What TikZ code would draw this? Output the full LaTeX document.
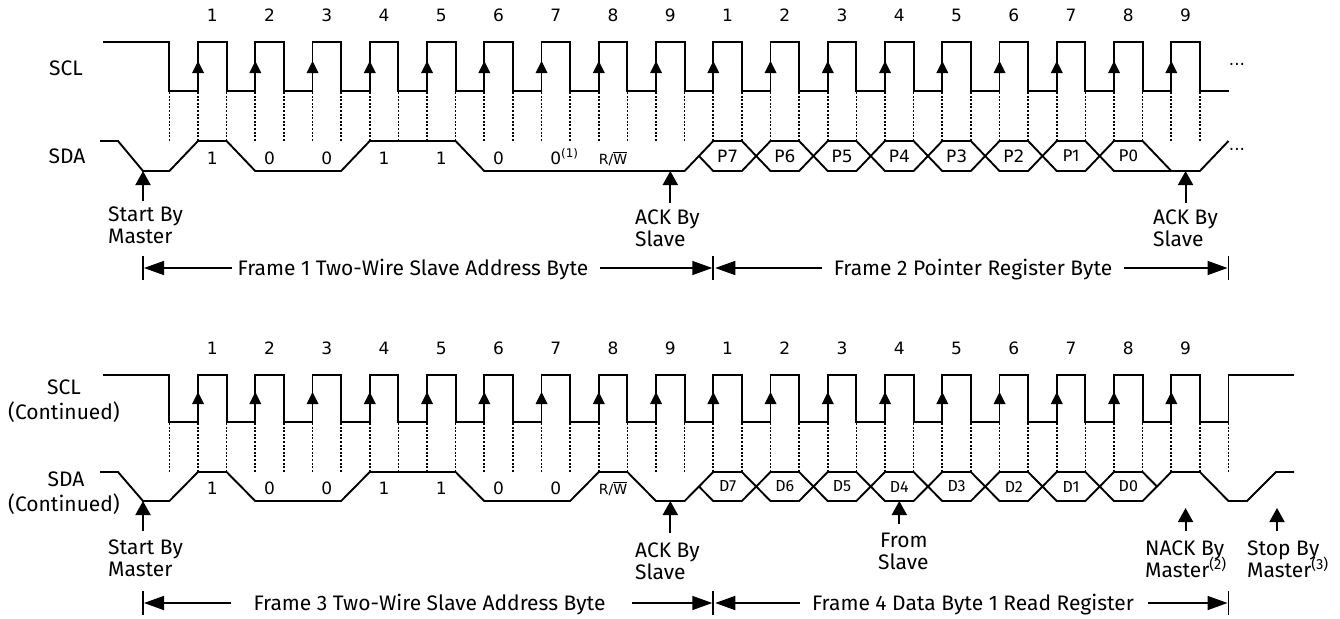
\documentclass[tikz,border=0pt]{standalone}
\usepackage{fontspec}
\setmainfont{Fira Sans}
\newfontfamily\dv{DejaVu Sans}
\usetikzlibrary{arrows.meta}
\newcommand\ee[1]{\fpeval{169.375+28.625*(#1)}}
\begin{document}
\begin{tikzpicture}[x=1pt,y=-1pt,
  sig/.style={line width=1.9pt, line join=miter},
  dotl/.style={line width=1.6pt, dash pattern=on 2pt off 1.6pt},
  ann/.style={font=\fontsize{21}{23}\selectfont, inner sep=0pt, anchor=base west},
  lbl/.style={font=\fontsize{21}{23}\selectfont, inner sep=0pt, anchor=base},
  num/.style={font=\dv\fontsize{17}{17}\selectfont, inner sep=0pt, anchor=base},
  hexl/.style={font=\dv\fontsize{17}{17}\selectfont, inner sep=0pt},
  hexf/.style={font=\fontsize{17}{17}\selectfont, inner sep=0pt},
  pa/.style={line width=1.9pt, -{Triangle[length=14pt,width=15pt]}},
  fa/.style={line width=1.6pt, -{Triangle[length=20pt,width=14pt]}},
  tick/.style={line width=1.6pt},
]
\useasboundingbox (0,0) rectangle (1340,618);

% ---------------- left labels
\node[lbl] (lscl1) at (66,75) {SCL};
\node[lbl] (lsda1) at (67,163) {SDA};
\node[lbl] (lscl2) at (64,394) {SCL};
\node[lbl] (lscl2b) at (64,419) {(Continued)};
\node[lbl] (lsda2) at (66,486) {SDA};
\node[lbl] (lsda2b) at (64,511) {(Continued)};

% ---------------- SCL waveforms
\draw[sig] (103,42) -- (\ee{0},42) -- (\ee{0},91)
  \foreach \k in {0,...,17} { -- (\ee{2*\k+1},91) -- (\ee{2*\k+1},42) -- (\ee{2*\k+2},42) -- (\ee{2*\k+2},91) }
  -- (\ee{37},91);
\draw[sig] (103,375) -- (\ee{0},375) -- (\ee{0},422)
  \foreach \k in {0,...,17} { -- (\ee{2*\k+1},422) -- (\ee{2*\k+1},375) -- (\ee{2*\k+2},375) -- (\ee{2*\k+2},422) }
  -- (\ee{37},422) -- (\ee{37},375) -- (1294,375);

% clock edge arrows and numbers
\foreach \k in {0,...,17} {
  \pgfmathtruncatemacro\n{mod(\k,9)+1}
  \fill (\ee{2*\k+1},61) -- ++(-6,12) -- ++(12,0) -- cycle;
  \fill (\ee{2*\k+1},392) -- ++(-6,12) -- ++(12,0) -- cycle;
  \node[num] (na\k) at (\ee{2*\k+1.5},22) {\n};
  \node[num] (nb\k) at (\ee{2*\k+1.5},354) {\n};
}

% dotted lines
\foreach \j in {0,...,36} { \draw[dotl] (\ee{\j},92) -- (\ee{\j},141); }
\foreach \j in {0,...,37} { \draw[dotl] (\ee{\j},423) -- (\ee{\j},472); }

% ---------------- SDA top
\draw[sig] (100,141) -- (118,141) -- (143,171) -- (\ee{0},171) -- (\ee{1},141) -- (\ee{2},141)
  -- (\ee{3},171) -- (\ee{6},171) -- (\ee{7},141) -- (\ee{10},141) -- (\ee{11},171)
  -- (\ee{18},171) -- (\ee{18.5},156);
\foreach \i in {0,...,6} {
  \draw[sig] (\ee{2*\i+18.5},156) -- (\ee{2*\i+19},141) -- (\ee{2*\i+20},141) -- (\ee{2*\i+20.5},156)
    -- (\ee{2*\i+20},171) -- (\ee{2*\i+19},171) -- cycle;
}
\draw[sig] (\ee{32.5},156) -- (\ee{33},141) -- (\ee{34},141) -- (\ee{35},171) -- (\ee{36},171) -- (\ee{37},141);
\draw[sig] (\ee{32.5},156) -- (\ee{33},171) -- (\ee{35},171);
\foreach \i/\t in {0/P7,1/P6,2/P5,3/P4,4/P3,5/P2} {
  \node[hexl] (p\i) at (\ee{2*\i+19.5},156) {\t};
}
\node[hexf] (p6) at (\ee{31.5},156) {P1};
\node[hexf] (p7) at (\ee{33.5},156) {P0};

% bit labels top
\foreach \k/\t in {0/1,1/0,2/0,3/1,4/1,5/0} {
  \node[num] (ba\k) at (\ee{2*\k+1.5},164) {\t};
}
\node[num] (ba6) at (\ee{13.5},164) {0\rlap{\textsuperscript{(1)}}};
\node[num, font=\dv\fontsize{14}{14}\selectfont] (ba7) at (\ee{15.5},164) {R/$\overline{\hbox{W}}$};

\node[num] (dots1) at (1237,66) {...};
\node[num] (dots2) at (1237,150) {...};

% ---------------- SDA bottom
\draw[sig] (100,472) -- (118,472) -- (143,501) -- (\ee{0},501) -- (\ee{1},472) -- (\ee{2},472)
  -- (\ee{3},501) -- (\ee{6},501) -- (\ee{7},472) -- (\ee{10},472) -- (\ee{11},501)
  -- (\ee{14},501) -- (\ee{15},472) -- (\ee{16},472) -- (\ee{17},501)
  -- (\ee{18},501) -- (\ee{18.5},486.5);
\foreach \i in {0,...,7} {
  \draw[sig] (\ee{2*\i+18.5},486.5) -- (\ee{2*\i+19},472) -- (\ee{2*\i+20},472) -- (\ee{2*\i+20.5},486.5)
    -- (\ee{2*\i+20},501) -- (\ee{2*\i+19},501) -- cycle;
}
\draw[sig] (\ee{34.5},486.5) -- (\ee{35},472) -- (\ee{36},472) -- (\ee{37},501) -- (1247,501) -- (1276,472) -- (1294,472);
\foreach \i/\t in {0/D7,1/D6,2/D5,3/D4,4/D3,5/D2,6/D1,7/D0} {
  \node[hexf, font=\fontsize{16}{16}\selectfont] (d\i) at (\ee{2*\i+19.5},486.5) {\t};
}
\foreach \k/\t in {0/1,1/0,2/0,3/1,4/1,5/0,6/0} {
  \node[num] (bb\k) at (\ee{2*\k+1.5},494) {\t};
}
\node[num, font=\dv\fontsize{14}{14}\selectfont] (bb7) at (\ee{15.5},494) {R/$\overline{\hbox{W}}$};

% ---------------- annotations top
\coordinate (s1) at (143,171);
\coordinate (a1) at (\ee{17.5},171);
\coordinate (a2) at (\ee{35.5},171);
\draw[pa] (143,201) -- (s1);
\draw[pa] (\ee{17.5},203) -- (a1);
\draw[pa] (\ee{35.5},203) -- (a2);
\node[ann] (t1) at (108,221) {Start By};
\node[ann] (t1b) at (108,243) {Master};
\node[ann] (t2) at (635,224) {ACK By};
\node[ann] (t2b) at (635,246) {Slave};
\node[ann] (t3) at (1153,224) {ACK By};
\node[ann] (t3b) at (1153,246) {Slave};

% ---------------- annotations bottom
\coordinate (s2) at (143,501);
\coordinate (a3) at (\ee{17.5},501);
\coordinate (fs) at (\ee{25.5},501);
\coordinate (na) at (\ee{35.5},508);
\coordinate (sp) at (1277,508);
\draw[pa] (143,531) -- (s2);
\draw[pa] (\ee{17.5},533) -- (a3);
\draw[pa] (\ee{25.5},524) -- (fs);
\draw[pa] (\ee{35.5},531) -- (na);
\draw[pa] (1277,531) -- (sp);
\node[ann] (u1) at (108,554) {Start By};
\node[ann] (u1b) at (108,576) {Master};
\node[ann] (u2) at (635,557) {ACK By};
\node[ann] (u2b) at (635,579) {Slave};
\node[ann] (u3) at (880,547) {From};
\node[ann] (u3b) at (878,569) {Slave};
\node[ann] (u4) at (1145,555) {NACK By};
\node[ann] (u4b) at (1145,577) {Master\textsuperscript{(2)}};
\node[ann] (u5) at (1247,555) {Stop By};
\node[ann] (u5b) at (1247,577) {Master\textsuperscript{(3)}};

% ---------------- frame arrows
\coordinate (k1) at (143,268);
\coordinate (k2) at (\ee{19},268);
\coordinate (k3) at (\ee{37},268);
\draw[tick] (143,256) -- (143,280);
\draw[tick] (\ee{19},256) -- (\ee{19},280);
\draw[tick] (\ee{37},256) -- (\ee{37},280);
\node[lbl] (f1) at (413,275.5) {Frame 1 Two-Wire Slave Address Byte};
\node[lbl] (f2) at (973,275.5) {Frame 2 Pointer Register Byte};
\draw[fa] ([xshift=-6pt]f1.west |- k1) -- ([xshift=1pt]k1);
\draw[fa] ([xshift=12pt]f1.east |- k1) -- ([xshift=-1pt]k2);
\draw[fa] ([xshift=-12pt]f2.west |- k1) -- ([xshift=2pt]k2);
\draw[fa] ([xshift=12pt]f2.east |- k1) -- ([xshift=-1pt]k3);

\coordinate (m1) at (143,603);
\coordinate (m2) at (\ee{19},603);
\coordinate (m3) at (\ee{37},603);
\draw[tick] (143,591) -- (143,615);
\draw[tick] (\ee{19},591) -- (\ee{19},615);
\draw[tick] (\ee{37},591) -- (\ee{37},615);
\node[lbl] (f3) at (429.5,610.5) {Frame 3 Two-Wire Slave Address Byte};
\node[lbl] (f4) at (973,610.5) {Frame 4 Data Byte 1 Read Register};
\draw[fa] ([xshift=-22pt]f3.west |- m1) -- ([xshift=1pt]m1);
\draw[fa] ([xshift=26pt]f3.east |- m1) -- ([xshift=-1pt]m2);
\draw[fa] ([xshift=-12pt]f4.west |- m1) -- ([xshift=2pt]m2);
\draw[fa] ([xshift=14pt]f4.east |- m1) -- ([xshift=-1pt]m3);
\end{tikzpicture}
\end{document}
